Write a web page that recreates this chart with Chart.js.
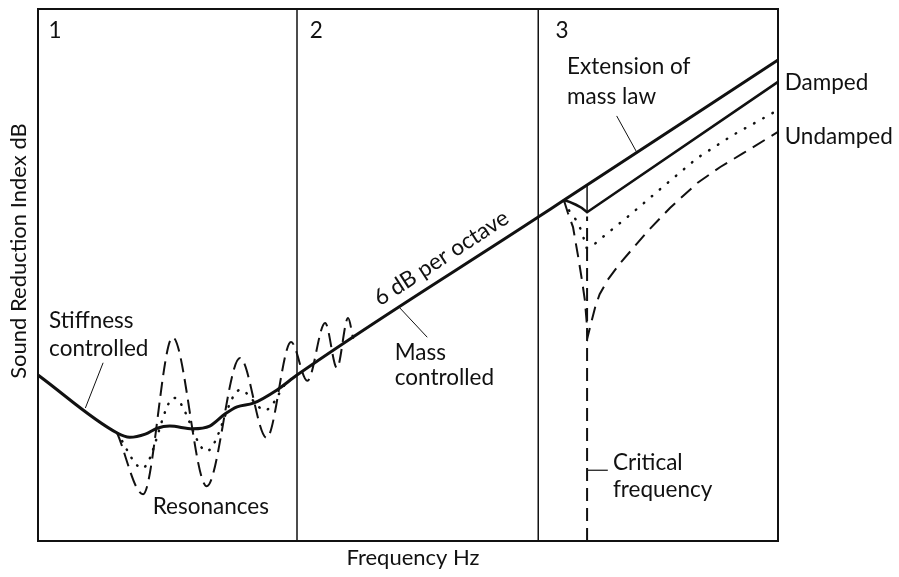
<!DOCTYPE html>
<html>
<head>
<meta charset="utf-8">
<script src="https://cdn.jsdelivr.net/npm/chart.js@4.4.1/dist/chart.umd.min.js"></script>
<style>
  body { margin: 0; background: #fff; }
  #wrap { width: 899px; height: 577px; }
</style>
</head>
<body>
<div id="wrap"><canvas id="sriChart"></canvas></div>
<script>
// schematic: frequency and SRI in arbitrary units (0-100), no ticks on the original
const massLawCurve = [
  [0, 31.2], [10.7, 20.3], [12.4, 19.5], [14.5, 20.1], [16.1, 21.2], [17.8, 21.6],
  [20.9, 21.1], [23.2, 21.6], [25.3, 23.9], [26.9, 25.2], [29.1, 25.9], [32.3, 28.4],
  [35.0, 31.2], [67.6, 60.9], [71.1, 64.1], [100, 90.4]
];
const resonanceUndamped = [
  [10.7, 20.3], [14.2, 8.8], [18.2, 38.3], [22.8, 10.3], [27.3, 34.4], [30.9, 19.4],
  [34.2, 37.4], [36.4, 30.1], [38.8, 41.0], [40.4, 32.5], [41.9, 41.9], [42.6, 38.0]
];
const resonanceMid = [
  [10.7, 20.3], [14.1, 13.7], [18.4, 26.9], [22.8, 16.9], [27.3, 28.4], [30.7, 24.6], [33.4, 29.5]
];
const coincidenceDamped = [
  [71.1, 64.1], [71.9, 63.7], [72.7, 63.2], [73.5, 62.6], [74.2, 61.8], [100, 86.3]
];
const coincidenceMid = [
  [71.1, 63.9], [71.9, 61.8], [72.8, 60.2], [73.5, 58.1], [74.1, 55.1], [74.6, 55.1],
  [76.2, 57.0], [80.0, 61.3], [84.3, 66.4], [89.1, 72.0], [93.9, 76.3], [100, 81.0]
];
const coincidenceUndamped = [
  [71.1, 63.9], [71.6, 61.7], [72.3, 59.0], [73.0, 53.4], [73.5, 49.1], [73.9, 45.3],
  [74.3, 38.5], [75.3, 44.0], [75.9, 46.4], [77.0, 49.1], [78.6, 52.1], [82.3, 58.1],
  [85.4, 62.6], [89.1, 67.3], [92.2, 70.3], [95.3, 72.9], [100, 76.9]
];
const regionBounds = [35.0, 67.6];
const regionNames = ["1", "2", "3"];
const criticalFreq = 74.2;

const toXY = (arr) => arr.map(([x, y]) => ({ x, y }));
const INK = "#111";

function curve(data, opts) {
  return Object.assign({
    data: toXY(data),
    borderColor: INK,
    borderWidth: 2,
    pointRadius: 0,
    fill: false,
    tension: 0,
  }, opts);
}

const datasets = [
  // region dividers
  ...regionBounds.map((x) => curve([[x, 0], [x, 100]], { borderWidth: 1.5 })),
  // critical frequency marker
  curve([[criticalFreq, 0], [criticalFreq, 61]], { borderWidth: 2, borderDash: [13, 7] }),
  curve([[criticalFreq, 61.8], [criticalFreq, 66.9]], { borderWidth: 1.5 }),
  curve([[criticalFreq, 13.3], [77.0, 13.3]], { borderWidth: 1.2 }),
  // leader lines
  curve([[8.8, 33.5], [6.4, 25.0]], { borderWidth: 1 }),
  curve([[48.9, 43.8], [52.6, 38.3]], { borderWidth: 1 }),
  curve([[78.2, 79.9], [80.9, 73.1]], { borderWidth: 1 }),
  // curves
  curve(resonanceUndamped, { cubicInterpolationMode: "monotone", borderDash: [14, 7] }),
  curve(resonanceMid, { cubicInterpolationMode: "monotone", borderWidth: 2.5, borderDash: [0.5, 9], borderCapStyle: "round" }),
  curve(coincidenceUndamped, { borderDash: [14, 8] }),
  curve(coincidenceMid, { borderWidth: 2.5, borderDash: [0.5, 10], borderCapStyle: "round" }),
  curve(coincidenceDamped, { borderWidth: 2.6 }),
  curve(massLawCurve, { cubicInterpolationMode: "monotone", borderWidth: 3 }),
];

// annotation text, placed in data units
const notes = [
  { lines: ["Stiffness", "controlled"], x: 1.5, y: 41.4, gap: 5.3 },
  { lines: ["Resonances"], x: 15.5, y: 6.4 },
  { lines: ["Mass", "controlled"], x: 48.2, y: 35.3, gap: 4.7 },
  { lines: ["Extension of", "mass law"], x: 71.5, y: 89.1, gap: 5.6 },
  { lines: ["Damped"], x: 100.9, y: 86.1 },
  { lines: ["Undamped"], x: 100.9, y: 75.9 },
  { lines: ["Critical", "frequency"], x: 77.7, y: 14.8, gap: 5.2 },
];
const regionLabelX = [2.3, 37.6, 70.8];

const FONT = "22.5px Lato";

const annotate = {
  id: "annotate",
  afterDraw(chart) {
    const { ctx, chartArea: a, scales: { x, y } } = chart;
    ctx.save();
    ctx.strokeStyle = INK;
    ctx.lineWidth = 2;
    ctx.strokeRect(a.left, a.top, a.right - a.left, a.bottom - a.top);

    ctx.fillStyle = INK;
    ctx.font = FONT;
    ctx.textBaseline = "middle";
    ctx.textAlign = "center";
    regionNames.forEach((t, i) => ctx.fillText(t, x.getPixelForValue(regionLabelX[i]), y.getPixelForValue(95.9)));

    ctx.textAlign = "left";
    notes.forEach((n) => {
      n.lines.forEach((line, i) => {
        ctx.fillText(line, x.getPixelForValue(n.x), y.getPixelForValue(n.y - i * (n.gap || 0)));
      });
    });

    // slope label
    ctx.save();
    ctx.translate(x.getPixelForValue(54.5), y.getPixelForValue(53.2));
    ctx.rotate(-33 * Math.PI / 180);
    ctx.textAlign = "center";
    ctx.fillText("6 dB per octave", 0, 0);
    ctx.restore();

    // axis titles
    ctx.textAlign = "center";
    ctx.font = "22px Lato";
    ctx.fillText("Frequency Hz", 413, 558);
    ctx.save();
    ctx.translate(19, 251);
    ctx.rotate(-Math.PI / 2);
    ctx.fillText("Sound Reduction Index dB", 0, 0);
    ctx.restore();
    ctx.restore();
  },
};

new Chart(document.getElementById("sriChart"), {
  type: "line",
  data: { datasets },
  options: {
    responsive: true,
    maintainAspectRatio: false,
    animation: false,
    layout: { padding: { left: 38, top: 9, right: 121, bottom: 36 } },
    plugins: { legend: { display: false }, tooltip: { enabled: false } },
    scales: {
      x: { type: "linear", min: 0, max: 100, display: false },
      y: { type: "linear", min: 0, max: 100, display: false },
    },
  },
  plugins: [annotate],
});
</script>
</body>
</html>
